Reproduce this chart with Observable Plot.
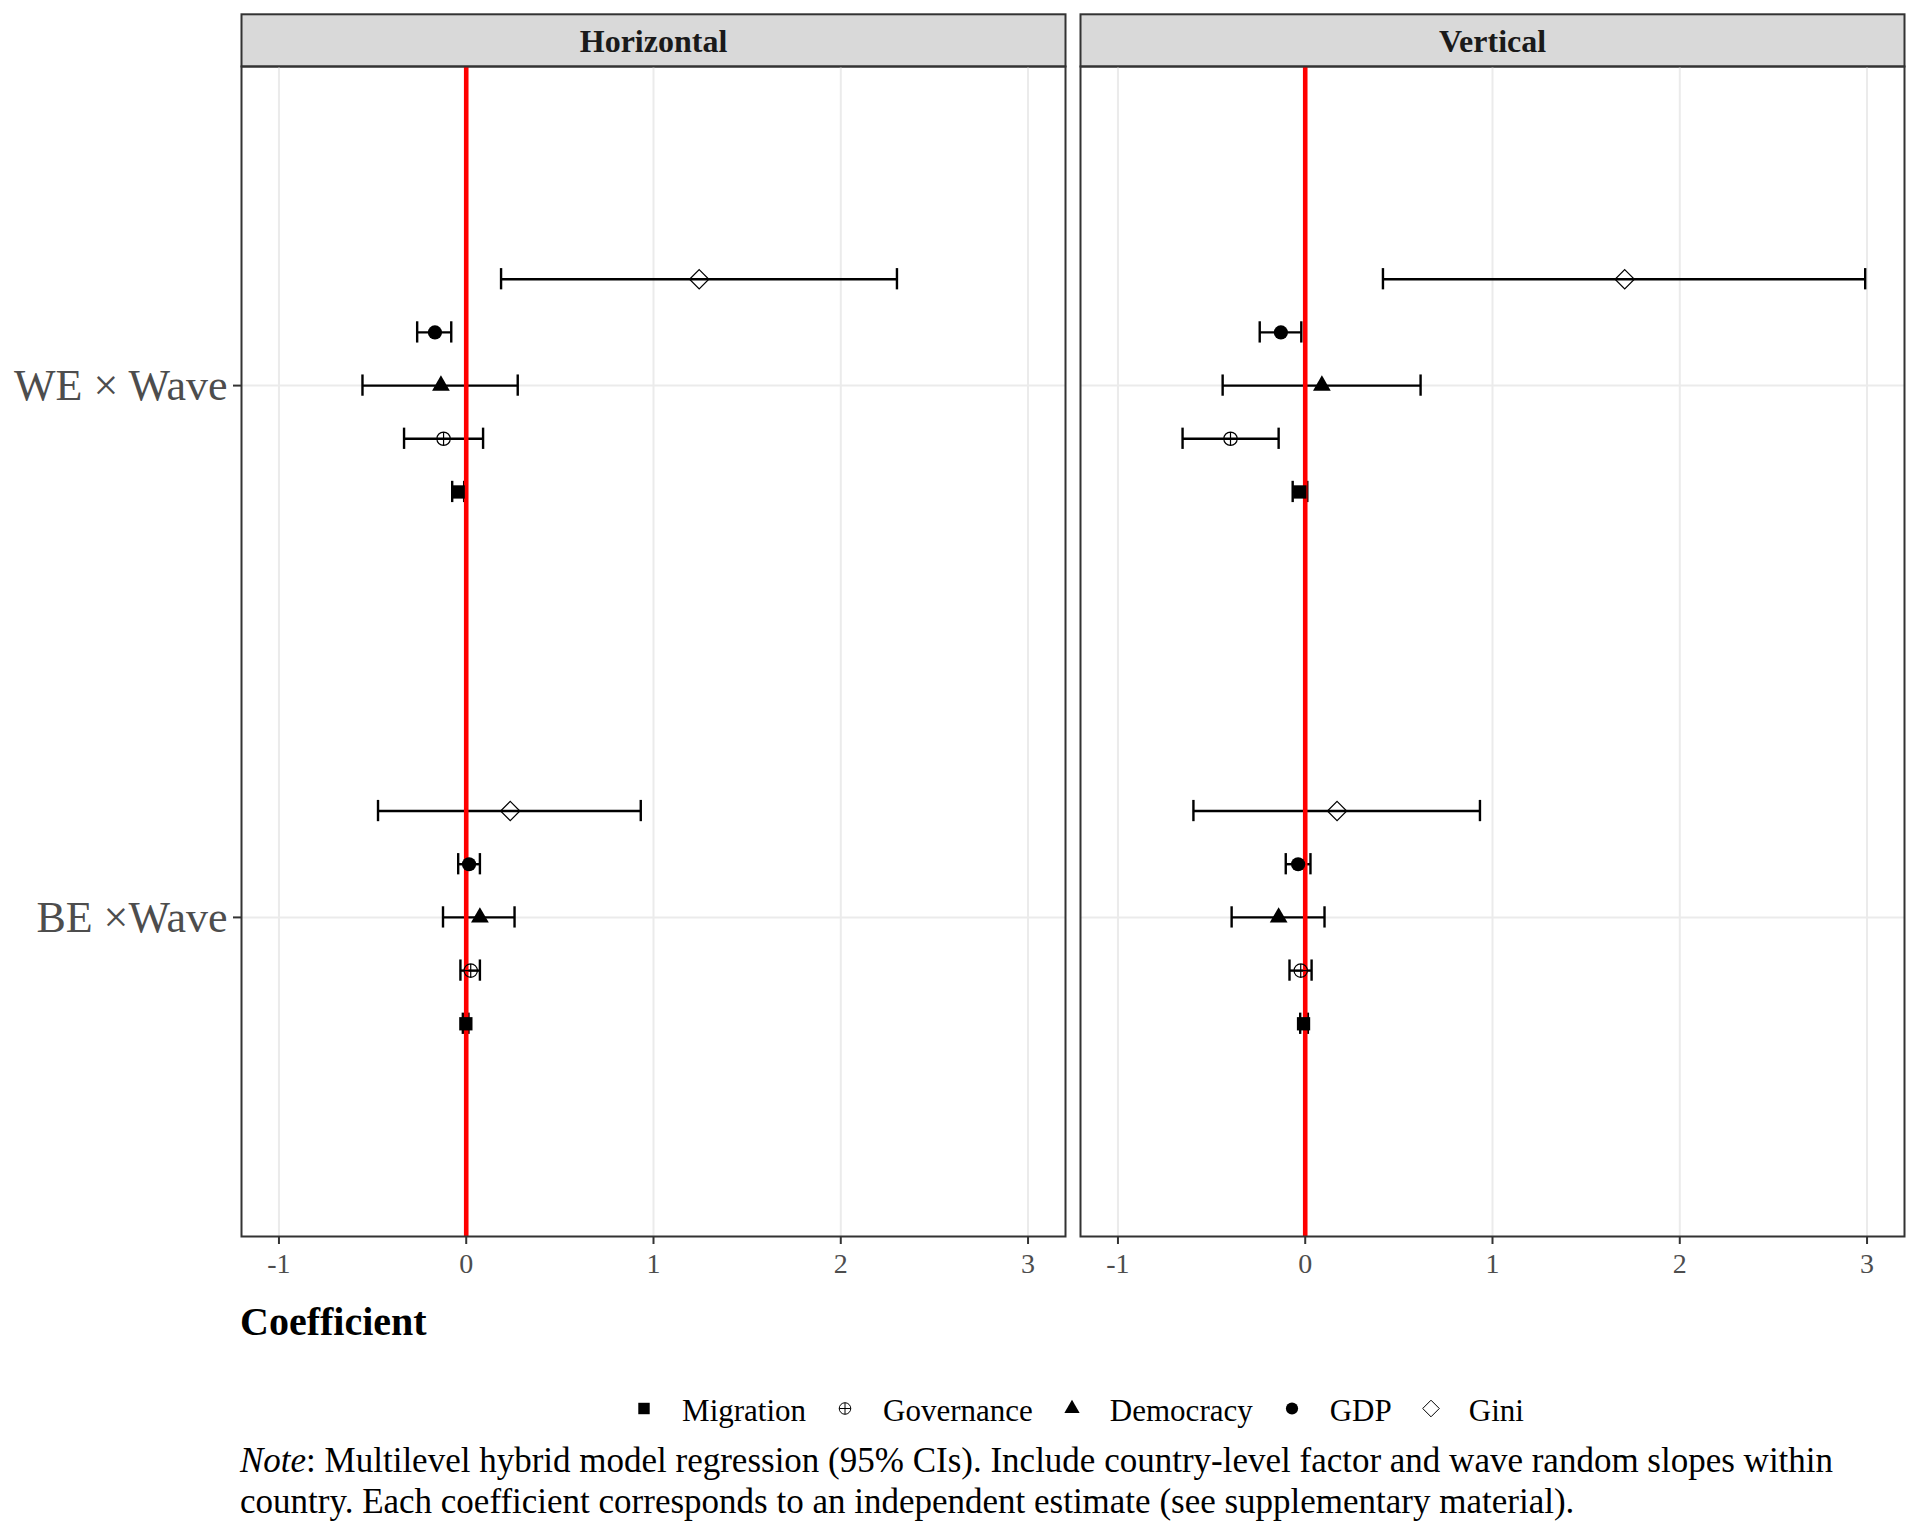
<!DOCTYPE html>
<html>
<head>
<meta charset="utf-8">
<script src="https://cdn.jsdelivr.net/npm/d3@7"></script>
<script src="https://cdn.jsdelivr.net/npm/@observablehq/plot@0.6"></script>
<style>
  html, body { margin: 0; padding: 0; background: #fff; }
  #wrap { position: relative; width: 1920px; height: 1536px; font-family: "Liberation Serif", "Times New Roman", serif; color: #000; }
  #wrap > svg { position: absolute; left: 0; top: 0; }
  .abs { position: absolute; white-space: nowrap; }
  #xlabel { left: 240px; top: 1302px; font-size: 40px; line-height: 39px; font-weight: bold; }
  #legend { left: 246px; width: 1664px; top: 1396px; height: 30px; display: flex; justify-content: center; align-items: center; font-size: 31px; line-height: 30px; }
  #legend .item { display: flex; align-items: center; }
  #legend .item + .item { margin-left: 27px; }
  #legend .item span { margin-left: 26px; }
  #note { left: 240px; top: 1440px; font-size: 35px; line-height: 41px; }
</style>
</head>
<body>
<div id="wrap"></div>
<script>
// ---------- data ----------
const panels = ["Horizontal", "Vertical"];
const categories = ["BE ×Wave", "WE × Wave"];           // y positions 1, 2
const series = ["Migration", "Governance", "Democracy", "GDP", "Gini"];
const xTicks = [-1, 0, 1, 2, 3];

const horizontalWE_est = [-0.043, -0.121, -0.135, -0.167, 1.244];
const horizontalWE_lo  = [-0.075, -0.332, -0.554, -0.262, 0.186];
const horizontalWE_hi  = [-0.011,  0.090,  0.275, -0.080, 2.300];
const horizontalBE_est = [-0.002,  0.024,  0.073,  0.015, 0.235];
const horizontalBE_lo  = [-0.018, -0.031, -0.124, -0.043, -0.471];
const horizontalBE_hi  = [ 0.012,  0.073,  0.258,  0.073, 0.932];

const verticalWE_est = [-0.029, -0.399,  0.089, -0.130, 1.706];
const verticalWE_lo  = [-0.067, -0.655, -0.441, -0.243, 0.415];
const verticalWE_hi  = [ 0.011, -0.142,  0.616, -0.021, 2.990];
const verticalBE_est = [-0.009, -0.024, -0.142, -0.038, 0.170];
const verticalBE_lo  = [-0.027, -0.084, -0.393, -0.104, -0.597];
const verticalBE_hi  = [ 0.014,  0.034,  0.103,  0.028, 0.933];

// ---------- table ----------
const dodge = 0.1;      // position_dodge step (in category units)
const capHalf = 0.02;   // errorbar cap half-height (in category units)
const rows = [];
function addGroup(panel, category, est, lo, hi) {
  const base = categories.indexOf(category) + 1;
  series.forEach((s, i) => rows.push({panel, category, series: s, est: est[i], lo: lo[i], hi: hi[i], pos: base + (i - 2) * dodge}));
}
addGroup("Horizontal", "WE × Wave", horizontalWE_est, horizontalWE_lo, horizontalWE_hi);
addGroup("Horizontal", "BE ×Wave", horizontalBE_est, horizontalBE_lo, horizontalBE_hi);
addGroup("Vertical", "WE × Wave", verticalWE_est, verticalWE_lo, verticalWE_hi);
addGroup("Vertical", "BE ×Wave", verticalBE_est, verticalBE_lo, verticalBE_hi);

// ---------- symbols ----------
const circlePlus = {
  draw(ctx, size) {
    const r = Math.sqrt(size / Math.PI);
    ctx.moveTo(r, 0); ctx.arc(0, 0, r, 0, 2 * Math.PI);
    ctx.moveTo(-r, 0); ctx.lineTo(r, 0);
    ctx.moveTo(0, -r); ctx.lineTo(0, r);
  }
};
const symbolStyle = {
  Migration:  {symbol: "square",   d3: d3.symbolSquare,   r: 7.5, hollow: false},
  Governance: {symbol: circlePlus, d3: circlePlus,        r: 6.7, hollow: true},
  Democracy:  {symbol: "triangle", d3: d3.symbolTriangle, r: 6.6, hollow: false},
  GDP:        {symbol: "circle",   d3: d3.symbolCircle,   r: 7.1, hollow: false},
  Gini:       {symbol: "diamond2", d3: d3.symbolDiamond2, r: 8.7, hollow: true}
};

const dotMarks = series.map(s => {
  const st = symbolStyle[s];
  return Plot.dot(rows.filter(d => d.series === s), {
    fx: "panel", x: "est", y: "pos",
    symbol: st.symbol, r: st.r,
    fill: st.hollow ? "none" : "black",
    stroke: st.hollow ? "black" : "none",
    strokeWidth: st.hollow ? 1.2 : 0
  });
});

const plot = Plot.plot({
  width: 1920,
  height: 1290,
  marginLeft: 240,
  marginRight: 16,
  marginTop: 66,
  marginBottom: 54,
  style: {fontFamily: '"Liberation Serif", "Times New Roman", serif', background: "white"},
  fx: {domain: panels, paddingInner: 0.0183, paddingOuter: 0, axis: null, label: null},
  x: {domain: [-1.2, 3.2], label: null},
  y: {domain: [0.4, 2.6], label: null},
  marks: [
    Plot.gridX(xTicks, {stroke: "#ebebeb", strokeOpacity: 1, strokeWidth: 2}),
    Plot.gridY([1, 2], {stroke: "#ebebeb", strokeOpacity: 1, strokeWidth: 2}),
    Plot.ruleY(rows, {fx: "panel", y: "pos", x1: "lo", x2: "hi", stroke: "black", strokeWidth: 2.4}),
    Plot.ruleX(rows, {fx: "panel", x: "lo", y1: d => d.pos - capHalf, y2: d => d.pos + capHalf, stroke: "black", strokeWidth: 2.4}),
    Plot.ruleX(rows, {fx: "panel", x: "hi", y1: d => d.pos - capHalf, y2: d => d.pos + capHalf, stroke: "black", strokeWidth: 2.4}),
    Plot.ruleX([0], {stroke: "red", strokeWidth: 4.6}),
    ...dotMarks,
    Plot.frame({stroke: "#333333", strokeWidth: 2}),
    Plot.axisX(xTicks, {tickFormat: d => String(d), tickSize: 8, tickPadding: 9, fontSize: 28, stroke: "#333333", fill: "#4d4d4d", strokeWidth: 2, label: null}),
    Plot.axisY([1, 2], {tickFormat: d => categories[d - 1], tickSize: 8, tickPadding: 6, fontSize: 44, stroke: "#333333", fill: "#4d4d4d", strokeWidth: 2, label: null}),
    Plot.text(panels, {fx: d => d, text: d => d, frameAnchor: "top", dy: -25, lineAnchor: "middle", fontSize: 32, fontWeight: "bold", fill: "#1a1a1a"})
  ]
});

const wrap = document.getElementById("wrap");
wrap.appendChild(plot);

// strip backgrounds above each facet frame
const svgSel = d3.select(plot);
const stripTop = 14.3;
const frames = plot.querySelectorAll('g[aria-label="frame"] rect');
const stripG = svgSel.insert("g", "g").attr("aria-label", "strips");
const wrapBox = wrap.getBoundingClientRect();
frames.forEach(fr => {
  const b = fr.getBoundingClientRect();
  stripG.append("rect")
    .attr("x", b.left - wrapBox.left).attr("y", stripTop)
    .attr("width", b.width).attr("height", (b.top - wrapBox.top) - stripTop)
    .attr("fill", "#d9d9d9").attr("stroke", "#333333").attr("stroke-width", 2);
});

// x-axis title
const xl = document.createElement("div");
xl.id = "xlabel"; xl.className = "abs"; xl.textContent = "Coefficient";
wrap.appendChild(xl);

// legend
const legend = document.createElement("div");
legend.id = "legend"; legend.className = "abs";
series.forEach(s => {
  const st = symbolStyle[s];
  const item = document.createElement("div");
  item.className = "item";
  const sv = d3.create("svg").attr("width", 24).attr("height", 30);
  const rr = st.r * 0.86;
  sv.append("path")
    .attr("transform", "translate(12,12.5)")
    .attr("d", d3.symbol(st.d3, Math.PI * rr * rr)())
    .attr("fill", st.hollow ? "none" : "black")
    .attr("stroke", st.hollow ? "black" : "none")
    .attr("stroke-width", st.hollow ? 1 : 0);
  item.appendChild(sv.node());
  const t = document.createElement("span");
  t.textContent = s;
  item.appendChild(t);
  legend.appendChild(item);
});
wrap.appendChild(legend);

// note
const note = document.createElement("div");
note.id = "note"; note.className = "abs";
note.innerHTML = "<i>Note</i>: Multilevel hybrid model regression (95% CIs). Include country-level factor and wave random slopes within<br>country. Each coefficient corresponds to an independent estimate (see supplementary material).";
wrap.appendChild(note);
</script>
</body>
</html>
